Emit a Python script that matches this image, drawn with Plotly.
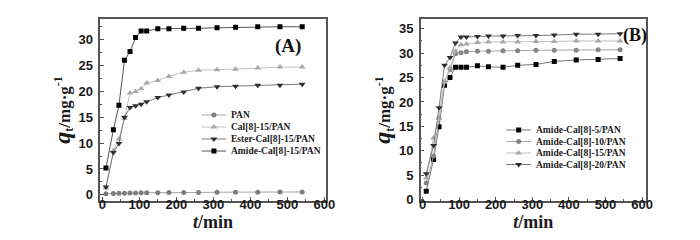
import plotly.graph_objects as go

t = [10, 30, 45, 60, 75, 90, 105, 120, 150, 180, 220, 260, 310, 360, 420, 480, 540]

# Panel A
pan = [0.2, 0.25, 0.3, 0.3, 0.35, 0.35, 0.4, 0.4, 0.4, 0.45, 0.45, 0.45, 0.5, 0.5, 0.5, 0.55, 0.55]
cal15 = [1.3, 8.5, 10.8, 14.8, 19.7, 20.0, 20.5, 21.6, 22.1, 22.9, 23.7, 24.1, 24.2, 24.3, 24.5, 24.7, 24.7]
ester15 = [1.5, 8.2, 9.9, 15.0, 16.9, 17.2, 17.5, 18.0, 18.8, 19.3, 19.9, 20.6, 20.9, 21.0, 21.2, 21.2, 21.4]
amide15_a = [5.2, 12.6, 17.3, 26.0, 27.7, 30.4, 31.7, 31.7, 32.1, 32.1, 32.2, 32.2, 32.3, 32.4, 32.5, 32.5, 32.5]

# Panel B
amide5 = [1.7, 8.2, 14.9, 23.4, 25.0, 27.1, 27.1, 27.1, 27.4, 27.2, 27.1, 27.5, 27.7, 28.3, 28.6, 28.7, 28.9]
amide10 = [3.4, 8.9, 16.7, 24.1, 26.6, 29.9, 30.1, 30.3, 30.4, 30.4, 30.5, 30.5, 30.6, 30.6, 30.6, 30.7, 30.7]
amide15_b = [4.4, 12.6, 16.7, 24.2, 27.0, 30.4, 31.7, 31.9, 32.2, 32.3, 32.3, 32.3, 32.4, 32.4, 32.5, 32.5, 32.5]
amide20 = [5.3, 11.1, 18.8, 27.5, 29.1, 32.1, 33.3, 33.3, 33.4, 33.5, 33.5, 33.6, 33.6, 33.7, 33.9, 33.9, 34.0]

names_a = ["PAN", "Cal[8]-15/PAN", "Ester-Cal[8]-15/PAN", "Amide-Cal[8]-15/PAN"]
names_b = ["Amide-Cal[8]-5/PAN", "Amide-Cal[8]-10/PAN", "Amide-Cal[8]-15/PAN", "Amide-Cal[8]-20/PAN"]

SERIF = "Liberation Serif, Times New Roman, serif"
SANS = "Liberation Sans, Arial, sans-serif"

styles_a = [
    ("circle", 5, "#7d7d7d", "#a5a5a5"),
    ("triangle-up", 6, "#a8a8a8", "#c0c0c0"),
    ("triangle-down", 6, "#2e2e2e", "#7a7a7a"),
    ("square", 5, "#000000", "#555555"),
]
styles_b = [
    ("square", 5, "#000000", "#777777"),
    ("circle", 5, "#858585", "#a5a5a5"),
    ("triangle-up", 6, "#a8a8a8", "#c0c0c0"),
    ("triangle-down", 6, "#2e2e2e", "#7a7a7a"),
]

fig = go.Figure()

for y, n, (sym, sz, mc, lc) in zip([pan, cal15, ester15, amide15_a], names_a, styles_a):
    fig.add_trace(go.Scatter(x=t, y=y, name=n, mode="lines+markers", showlegend=False,
                             marker=dict(symbol=sym, size=sz, color=mc, line=dict(width=0)),
                             line=dict(color=lc, width=1), xaxis="x", yaxis="y"))

for y, n, (sym, sz, mc, lc) in zip([amide5, amide10, amide15_b, amide20], names_b, styles_b):
    fig.add_trace(go.Scatter(x=t, y=y, name=n, mode="lines+markers", showlegend=False,
                             marker=dict(symbol=sym, size=sz, color=mc, line=dict(width=0)),
                             line=dict(color=lc, width=1), xaxis="x2", yaxis="y2"))

# Hand-made compact legends on an overlay pixel axis (x: 0..700, y: 11..193 px)
leg_a_rows = [107, 119, 131, 143]
leg_b_rows = [122, 133.5, 145, 156.5]
annotations = []
for rows, names, styles, x0, x1, xt in [
    (leg_a_rows, names_a, styles_a, 195, 220, 223),
    (leg_b_rows, names_b, styles_b, 505, 530, 533),
]:
    for r, n, (sym, sz, mc, lc) in zip(rows, names, styles):
        fig.add_trace(go.Scatter(x=[x0, x1], y=[r, r], mode="lines", showlegend=False,
                                 line=dict(color=lc, width=1), hoverinfo="skip",
                                 xaxis="x3", yaxis="y3"))
        fig.add_trace(go.Scatter(x=[(x0 + x1) / 2], y=[r], mode="markers", showlegend=False,
                                 marker=dict(symbol=sym, size=sz, color=mc, line=dict(width=0)),
                                 hoverinfo="skip", xaxis="x3", yaxis="y3"))
        annotations.append(dict(text="<b>" + n + "</b>", x=xt, y=r, xref="x3", yref="y3",
                                xanchor="left", yanchor="middle", showarrow=False,
                                font=dict(family=SERIF, size=9.5, color="#1a1a1a")))

annotations += [
    dict(text="<b>(A)</b>", x=283, y=38, xref="x3", yref="y3", showarrow=False,
         xanchor="center", yanchor="middle", font=dict(family=SERIF, size=19, color="#111111")),
    dict(text="<b>(B)</b>", x=636, y=27, xref="x3", yref="y3", showarrow=False,
         xanchor="center", yanchor="middle", font=dict(family=SERIF, size=18, color="#111111")),
]

tickfont = dict(family=SANS, size=13, color="#1a1a1a", weight="bold")
axis_common = dict(showline=True, linecolor="#555555", linewidth=1.5, mirror=True,
                   ticks="inside", ticklen=4, tickwidth=1, tickcolor="#555555", showgrid=False,
                   zeroline=False, tickfont=tickfont)
xminor = dict(dtick=50, ticks="inside", ticklen=2, tickcolor="#555555", showgrid=False)
yminor = dict(dtick=2.5, ticks="inside", ticklen=2, tickcolor="#555555", showgrid=False)

xtitle = dict(text="<b><i>t</i>/min</b>", font=dict(family=SERIF, size=18, color="#1a1a1a"), standoff=0)
ytitle = dict(text='<b><span style="font-size:24px"><i>q</i></span><sub>t</sub>/mg·g<sup>-1</sup></b>',
              font=dict(family=SERIF, size=17, color="#1a1a1a"), standoff=4)

fig.update_layout(
    width=700, height=240,
    margin=dict(l=0, r=0, t=11, b=47),
    paper_bgcolor="white", plot_bgcolor="rgba(0,0,0,0)",
    showlegend=False,
    xaxis=dict(domain=[0.1314, 0.4586], range=[-5, 603], dtick=100, anchor="y",
               title=xtitle, minor=xminor, ticklabelstandoff=-9, **axis_common),
    yaxis=dict(domain=[0, 1], range=[-1.2, 34], dtick=5, anchor="x",
               title=ytitle, minor=yminor, ticklabelstandoff=3, **axis_common),
    xaxis2=dict(domain=[0.597, 0.924], range=[-5, 610], dtick=100, anchor="y2",
                title=xtitle, minor=xminor, ticklabelstandoff=-9, **axis_common),
    yaxis2=dict(domain=[0, 1], range=[-0.3, 37], dtick=5, anchor="x2",
                title=ytitle, minor=yminor, ticklabelstandoff=3, **axis_common),
    xaxis3=dict(domain=[0, 1], range=[0, 700], anchor="y3", visible=False, fixedrange=True),
    yaxis3=dict(domain=[0, 1], range=[193, 11], anchor="x3", visible=False, fixedrange=True),
    annotations=annotations,
)

fig.write_html("out.html")
